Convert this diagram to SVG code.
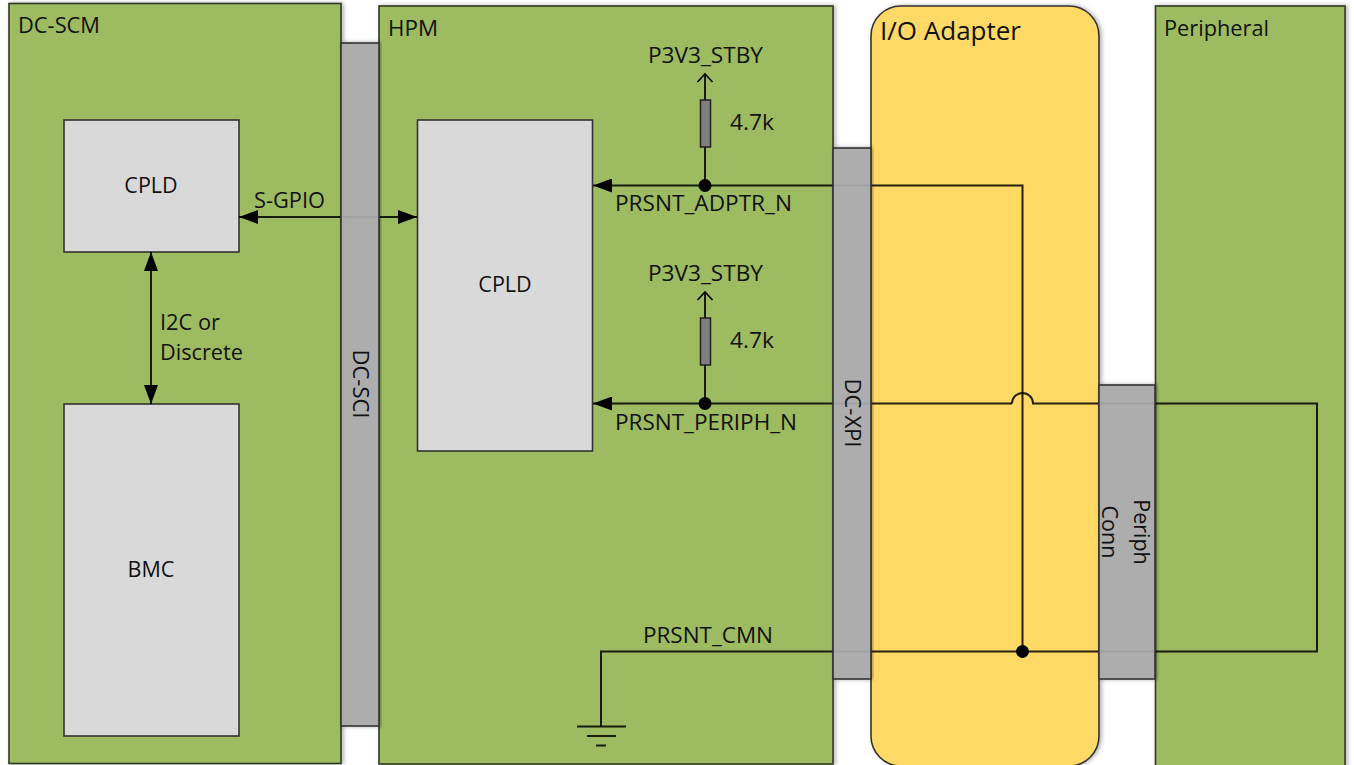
<svg xmlns="http://www.w3.org/2000/svg" width="1354" height="765" viewBox="0 0 1354 765">
<defs>
<style>
text{font-family:"Open Sans","Noto Sans","Liberation Sans",sans-serif;fill:#111;font-size:21.5px}
.g{fill:#9dbb61;stroke:#2f3a24;stroke-width:1.6;filter:url(#s)}
.y{fill:#ffd966;stroke:#333;stroke-width:1.6;filter:url(#s)}
.c{fill:#aaa;fill-opacity:.93;stroke:#333;stroke-width:1.6;filter:url(#s)}
.b{fill:#d9d9d9;stroke:#333;stroke-width:1.6}
.w{fill:none;stroke:#000;stroke-width:2;stroke-opacity:.85}
.m{text-anchor:middle}
</style>
<filter id="s" x="-5%" y="-5%" width="112%" height="110%"><feDropShadow dx="2" dy="0" stdDeviation="2" flood-color="#000" flood-opacity=".3"/></filter>
<marker id="a" markerUnits="userSpaceOnUse" markerWidth="20" markerHeight="14" refX="19" refY="7" orient="auto-start-reverse"><path d="M0 0L19 7L0 14Z" fill="#000"/></marker>
<marker id="o" markerUnits="userSpaceOnUse" markerWidth="11" markerHeight="18" refX="9" refY="9" orient="auto"><path d="M1 1.500L9 9L1 16.500" fill="none" stroke="#000" stroke-width="1.600"/></marker>
</defs>
<rect width="1354" height="765" fill="#fff"/>
<g id="dc-scm"><rect class="g" x="9" y="3.500" width="332" height="760"/><text x="18" y="33" textLength="82" lengthAdjust="spacingAndGlyphs">DC-SCM</text></g>
<g id="hpm"><rect class="g" x="379" y="6" width="454" height="758"/><text x="388" y="36" textLength="50" lengthAdjust="spacingAndGlyphs">HPM</text></g>
<g id="io-adapter"><rect class="y" x="871" y="6" width="228" height="760" rx="30"/><text x="880" y="40" style="font-size:26px" textLength="141" lengthAdjust="spacingAndGlyphs">I/O Adapter</text></g>
<g id="peripheral"><rect class="g" x="1155.500" y="6" width="189.500" height="760"/><text x="1164" y="36" textLength="105" lengthAdjust="spacingAndGlyphs">Peripheral</text></g>
<g id="scm-cpld"><rect class="b" x="64" y="120" width="175" height="132"/><text class="m" x="151" y="193">CPLD</text></g>
<g id="bmc"><rect class="b" x="64" y="404" width="175" height="332"/><text class="m" x="151" y="577">BMC</text></g>
<g id="hpm-cpld"><rect class="b" x="417.500" y="120" width="175" height="331"/><text class="m" x="505" y="292">CPLD</text></g>
<g id="connectors">
<path class="w" d="M239 217H417" marker-start="url(#a)" marker-end="url(#a)"/>
<path class="w" d="M151 252V404" marker-start="url(#a)" marker-end="url(#a)"/>
<path class="w" d="M1022.500 651V185.500H593" marker-end="url(#a)"/>
<path class="w" d="M705 185.500V143"/><path class="w" d="M705 100V74" marker-end="url(#o)"/>
<path class="w" d="M705 403.500V365"/><path class="w" d="M705 318V292" marker-end="url(#o)"/>
<path class="w" d="M1012 403.500H593" marker-end="url(#a)"/>
<path class="w" d="M1012 403.500a10.500 10.500 0 0 1 21 0H1317V651.500H601V726"/>
<path class="w" d="M577 726.500H626M587 736H616M596 745.500H606"/>
<circle cx="705" cy="185.500" r="6.500"/><circle cx="705" cy="403.500" r="6.500"/><circle cx="1022.500" cy="651.500" r="6.500"/>
<rect x="700.500" y="100" width="10" height="47" fill="#7f7f7f" stroke="#222" stroke-width="1.500"/>
<rect x="700.500" y="318" width="10" height="47" fill="#7f7f7f" stroke="#222" stroke-width="1.500"/>
</g>
<g id="dc-sci"><rect class="c" x="341" y="43" width="38" height="683"/><text class="m" transform="translate(353 384) rotate(90)" textLength="69" lengthAdjust="spacingAndGlyphs">DC-SCI</text></g>
<g id="dc-xpi"><rect class="c" x="833" y="148" width="38" height="531"/><text class="m" transform="translate(845 413) rotate(90)" textLength="69" lengthAdjust="spacingAndGlyphs">DC-XPI</text></g>
<g id="periph-conn"><rect class="c" x="1099" y="385" width="56" height="294"/><text class="m" transform="translate(1134 532) rotate(90)">Periph</text><text class="m" transform="translate(1102 532) rotate(90)">Conn</text></g>
<g id="labels">
<text x="254" y="208" textLength="71" lengthAdjust="spacingAndGlyphs">S-GPIO</text>
<text x="160" y="330" textLength="60" lengthAdjust="spacingAndGlyphs">I2C or</text><text x="160" y="360" textLength="83" lengthAdjust="spacingAndGlyphs">Discrete</text>
<text x="648" y="63" textLength="115" lengthAdjust="spacingAndGlyphs">P3V3_STBY</text><text x="730" y="130" textLength="44" lengthAdjust="spacingAndGlyphs">4.7k</text>
<text x="615" y="211" textLength="177" lengthAdjust="spacingAndGlyphs">PRSNT_ADPTR_N</text>
<text x="648" y="281" textLength="115" lengthAdjust="spacingAndGlyphs">P3V3_STBY</text><text x="730" y="348" textLength="44" lengthAdjust="spacingAndGlyphs">4.7k</text>
<text x="615" y="430" textLength="182" lengthAdjust="spacingAndGlyphs">PRSNT_PERIPH_N</text>
<text x="643" y="643" textLength="130" lengthAdjust="spacingAndGlyphs">PRSNT_CMN</text>
</g>
</svg>
